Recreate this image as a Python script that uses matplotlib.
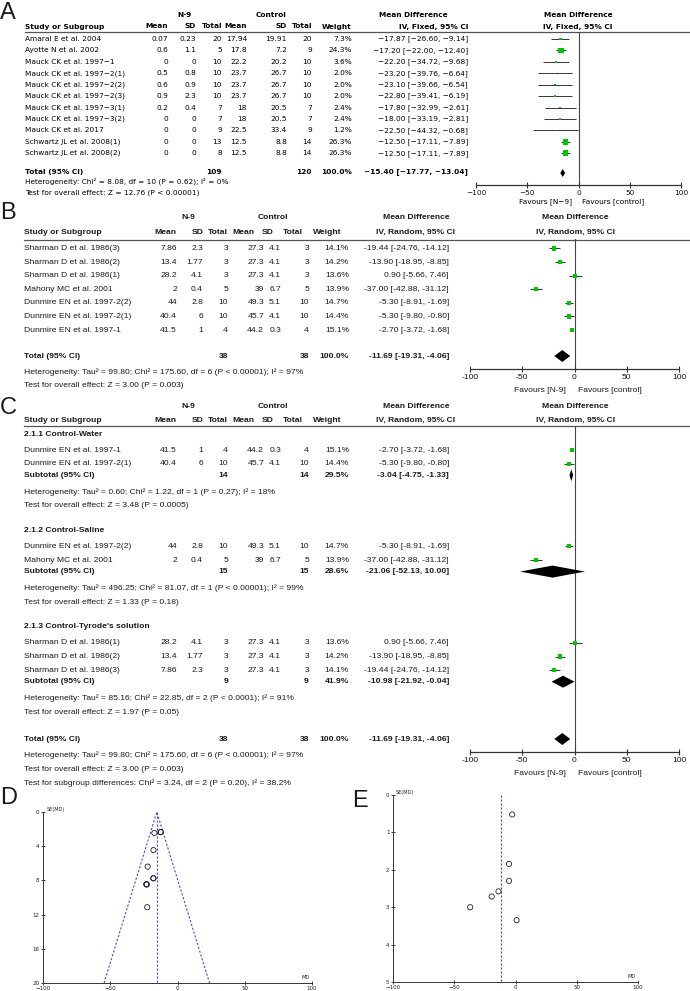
import matplotlib
matplotlib.use("Agg")
import matplotlib.pyplot as plt
import numpy as np

# ---------------- DATA ----------------
# Panel A (IV, Fixed)
a_studies = ["Amaral E et al. 2004", "Ayotte N et al. 2002", "Mauck CK et al. 1997\u22121",
             "Mauck CK et al. 1997\u22122(1)", "Mauck CK et al. 1997\u22122(2)", "Mauck CK et al. 1997\u22122(3)",
             "Mauck CK et al. 1997\u22123(1)", "Mauck CK et al. 1997\u22123(2)", "Mauck CK et al. 2017",
             "Schwartz JL et al. 2008(1)", "Schwartz JL et al. 2008(2)"]
a_n9_mean = [0.07, 0.6, 0, 0.5, 0.6, 0.9, 0.2, 0, 0, 0, 0]
a_n9_sd = [0.23, 1.1, 0, 0.8, 0.9, 2.3, 0.4, 0, 0, 0, 0]
a_n9_total = [20, 5, 10, 10, 10, 10, 7, 7, 9, 13, 8]
a_ctrl_mean = [17.94, 17.8, 22.2, 23.7, 23.7, 23.7, 18, 18, 22.5, 12.5, 12.5]
a_ctrl_sd = [19.91, 7.2, 20.2, 26.7, 26.7, 26.7, 20.5, 20.5, 33.4, 8.8, 8.8]
a_ctrl_total = [20, 9, 10, 10, 10, 10, 7, 7, 9, 14, 14]
a_weight = [7.3, 24.3, 3.6, 2.0, 2.0, 2.0, 2.4, 2.4, 1.2, 26.3, 26.3]
a_md = [-17.87, -17.20, -22.20, -23.20, -23.10, -22.80, -17.80, -18.00, -22.50, -12.50, -12.50]
a_lo = [-26.60, -22.00, -34.72, -39.76, -39.66, -39.41, -32.99, -33.19, -44.32, -17.11, -17.11]
a_hi = [-9.14, -12.40, -9.68, -6.64, -6.54, -6.19, -2.61, -2.81, -0.68, -7.89, -7.89]
a_tot_n9, a_tot_ctrl, a_tot_w = 109, 120, 100.0
a_tot_md, a_tot_lo, a_tot_hi = -15.40, -17.77, -13.04
a_het = "Heterogeneity: Chi\u00b2 = 8.08, df = 10 (P = 0.62); I\u00b2 = 0%"
a_test = "Test for overall effect: Z = 12.76 (P < 0.00001)"

# Panel B (IV, Random)
b_studies = ["Sharman D et al. 1986(3)", "Sharman D et al. 1986(2)", "Sharman D et al. 1986(1)",
             "Mahony MC et al. 2001", "Dunmire EN et al. 1997-2(2)", "Dunmire EN et al. 1997-2(1)",
             "Dunmire EN et al. 1997-1"]
b_n9_mean = [7.86, 13.4, 28.2, 2, 44, 40.4, 41.5]
b_n9_sd = [2.3, 1.77, 4.1, 0.4, 2.8, 6, 1]
b_n9_total = [3, 3, 3, 5, 10, 10, 4]
b_ctrl_mean = [27.3, 27.3, 27.3, 39, 49.3, 45.7, 44.2]
b_ctrl_sd = [4.1, 4.1, 4.1, 6.7, 5.1, 4.1, 0.3]
b_ctrl_total = [3, 3, 3, 5, 10, 10, 4]
b_weight = [14.1, 14.2, 13.6, 13.9, 14.7, 14.4, 15.1]
b_md = [-19.44, -13.90, 0.90, -37.00, -5.30, -5.30, -2.70]
b_lo = [-24.76, -18.95, -5.66, -42.88, -8.91, -9.80, -3.72]
b_hi = [-14.12, -8.85, 7.46, -31.12, -1.69, -0.80, -1.68]
b_tot_n9, b_tot_ctrl, b_tot_w = 38, 38, 100.0
b_tot_md, b_tot_lo, b_tot_hi = -11.69, -19.31, -4.06
b_het = "Heterogeneity: Tau\u00b2 = 99.80; Chi\u00b2 = 175.60, df = 6 (P < 0.00001); I\u00b2 = 97%"
b_test = "Test for overall effect: Z = 3.00 (P = 0.003)"

# Panel C (subgroups of the panel B studies)
c_groups = ["2.1.1 Control-Water", "2.1.2 Control-Saline", "2.1.3 Control-Tyrode's solution"]
c_members = [[6, 5], [4, 3], [2, 1, 0]]
c_sub_n9 = [14, 15, 9]
c_sub_ctrl = [14, 15, 9]
c_sub_w = [29.5, 28.6, 41.9]
c_sub_md = [-3.04, -21.06, -10.98]
c_sub_lo = [-4.75, -52.13, -21.92]
c_sub_hi = [-1.33, 10.00, -0.04]
c_sub_het = ["Heterogeneity: Tau\u00b2 = 0.60; Chi\u00b2 = 1.22, df = 1 (P = 0.27); I\u00b2 = 18%",
             "Heterogeneity: Tau\u00b2 = 496.25; Chi\u00b2 = 81.07, df = 1 (P < 0.00001); I\u00b2 = 99%",
             "Heterogeneity: Tau\u00b2 = 85.16; Chi\u00b2 = 22.85, df = 2 (P < 0.0001); I\u00b2 = 91%"]
c_sub_test = ["Test for overall effect: Z = 3.48 (P = 0.0005)",
              "Test for overall effect: Z = 1.33 (P = 0.18)",
              "Test for overall effect: Z = 1.97 (P = 0.05)"]
c_subgroup_test = "Test for subgroup differences: Chi\u00b2 = 3.24, df = 2 (P = 0.20), I\u00b2 = 38.2%"

axis_ticks = [-100, -50, 0, 50, 100]
d_yticks = [0, 4, 8, 12, 16, 20]
e_yticks = [0, 1, 2, 3, 4, 5]

# ---------------- LAYOUT ----------------
W, H = 690, 991
fig = plt.figure(figsize=(W / 100, H / 100), dpi=100)
T = fig.add_axes([0, 0, 1, 1])
T.set_xlim(0, W)
T.set_ylim(H, 0)
T.axis("off")

FA, SA = "DejaVu Sans", 5.3
FB, SB = "Liberation Sans", 6.1
GREEN = "#00c800"


def txt(x, y, s, ha="left", font=FB, size=SB, bold=False, color="#1a1a1a"):
    T.text(x, y, s, ha=ha, va="center", fontfamily=font, fontsize=size,
           fontweight="bold" if bold else "normal", color=color)


def fmt(v):
    return f"{v:g}"


def fmt_ci(md, lo, hi, minus=False):
    s = f"{md:.2f} [{lo:.2f}, {hi:.2f}]"
    return s.replace("-", "\u2212") if minus else s


def forest(x0, x1, ytop, yaxis, font, size, minus, pad):
    ax = fig.add_axes([x0 / W, 1 - yaxis / H, (x1 - x0) / W, (yaxis - ytop) / H])
    ax.set_xlim(-100, 100)
    ax.set_ylim(yaxis, ytop)
    ax.patch.set_visible(False)
    for s in ("top", "right", "left"):
        ax.spines[s].set_visible(False)
    ax.spines["bottom"].set_linewidth(0.9)
    ax.spines["bottom"].set_color("#333333")
    ax.set_yticks([])
    ax.set_xticks(axis_ticks)
    labs = [str(t) for t in axis_ticks]
    if minus:
        labs = [l.replace("-", "\u2212") for l in labs]
    ax.set_xticklabels(labs, fontfamily=font, fontsize=size, color="#111111")
    ax.tick_params(axis="x", direction="inout", length=4.5, width=0.8, color="#333333", pad=pad)
    ax.axvline(0, color="#444444", lw=0.8, zorder=1)
    return ax


def study_marks(ax, ys, md, lo, hi, w):
    ax.hlines(ys, lo, hi, colors="#333333", lw=0.7, zorder=2)
    side_pt = 1.07 * np.sqrt(np.asarray(w)) * 0.72
    ax.scatter(md, ys, marker="s", s=side_pt ** 2, c=GREEN, linewidths=0, zorder=3)


def diamond(ax, y, md, lo, hi, hh):
    ax.fill([lo, md, hi, md], [y, y - hh, y, y + hh], color="black", lw=0, zorder=3)


# ======== Panel A ========
txt(0, 13, "A", size=17)
ya_h1, ya_h2, ya_line = 15, 26.5, 31.5
a_cols = [168, 196, 222, 247, 287, 312, 352]
a_ci_x = 468
txt(185, ya_h1, "N-9", ha="center", font=FA, size=SA, bold=True, color="k")
txt(271, ya_h1, "Control", ha="center", font=FA, size=SA, bold=True, color="k")
txt(413, ya_h1, "Mean Difference", ha="center", font=FA, size=SA, bold=True, color="k")
txt(25, ya_h2, "Study or Subgroup", font=FA, size=SA, bold=True, color="k")
for x, h in zip(a_cols, ["Mean", "SD", "Total", "Mean", "SD", "Total", "Weight"]):
    txt(x, ya_h2, h, ha="right", font=FA, size=SA, bold=True, color="k")
txt(a_ci_x, ya_h2, "IV, Fixed, 95% CI", ha="right", font=FA, size=SA, bold=True, color="k")
txt(578, ya_h1, "Mean Difference", ha="center", font=FA, size=SA, bold=True, color="k")
txt(578, ya_h2, "IV, Fixed, 95% CI", ha="center", font=FA, size=SA, bold=True, color="k")
T.plot([25, 690], [ya_line, ya_line], color="#555555", lw=0.9)

a_rows_y = 39 + 11.42 * np.arange(len(a_studies))
for i, y in enumerate(a_rows_y):
    txt(25, y, a_studies[i], font=FA, size=SA, color="k")
    vals = [fmt(a_n9_mean[i]), fmt(a_n9_sd[i]), str(a_n9_total[i]), fmt(a_ctrl_mean[i]),
            fmt(a_ctrl_sd[i]), str(a_ctrl_total[i]), f"{a_weight[i]:.1f}%"]
    for x, v in zip(a_cols, vals):
        txt(x, y, v, ha="right", font=FA, size=SA, color="k")
    txt(a_ci_x, y, fmt_ci(a_md[i], a_lo[i], a_hi[i], True), ha="right", font=FA, size=SA, color="k")

ya_tot = 172
txt(25, ya_tot, "Total (95% CI)", font=FA, size=SA, bold=True, color="k")
txt(a_cols[2], ya_tot, str(a_tot_n9), ha="right", font=FA, size=SA, bold=True, color="k")
txt(a_cols[5], ya_tot, str(a_tot_ctrl), ha="right", font=FA, size=SA, bold=True, color="k")
txt(a_cols[6], ya_tot, f"{a_tot_w:.1f}%", ha="right", font=FA, size=SA, bold=True, color="k")
txt(a_ci_x, ya_tot, fmt_ci(a_tot_md, a_tot_lo, a_tot_hi, True), ha="right", font=FA, size=SA, bold=True, color="k")
txt(25, 181.5, a_het, font=FA, size=SA, color="k")
txt(25, 192.5, a_test, font=FA, size=SA, color="k")

axA = forest(476, 681, ya_line, 185, FA, SA, True, 1.0)
study_marks(axA, a_rows_y, a_md, a_lo, a_hi, a_weight)
diamond(axA, ya_tot + 1, a_tot_md, a_tot_lo, a_tot_hi, 4)
txt(572, 202, "Favours [N\u22129]", ha="right", font=FA, size=SA, color="k")
txt(582, 202, "Favours [control]", ha="left", font=FA, size=SA, color="k")

# ======== Panel B / C common columns ========
bc_hdr_cols = [176, 204, 228, 254, 274, 303, 341]
bc_val_cols = [177, 203, 228, 264, 281, 309, 349]
bc_ci_x = 449


def bc_header(y1, y2, yline, rand_x=575):
    txt(188, y1, "N-9", ha="center", bold=True)
    txt(273, y1, "Control", ha="center", bold=True)
    txt(416, y1, "Mean Difference", ha="center", bold=True)
    txt(24, y2, "Study or Subgroup", bold=True)
    for x, h in zip(bc_hdr_cols, ["Mean", "SD", "Total", "Mean", "SD", "Total", "Weight"]):
        txt(x, y2, h, ha="right", bold=True)
    txt(416, y2, "IV, Random, 95% CI", ha="center", bold=True)
    txt(rand_x, y1, "Mean Difference", ha="center", bold=True)
    txt(rand_x, y2, "IV, Random, 95% CI", ha="center", bold=True)
    T.plot([24, 690], [yline, yline], color="#555555", lw=0.9)


def bc_row(i, y):
    txt(24, y, b_studies[i])
    vals = [fmt(b_n9_mean[i]), fmt(b_n9_sd[i]), str(b_n9_total[i]), fmt(b_ctrl_mean[i]),
            fmt(b_ctrl_sd[i]), str(b_ctrl_total[i]), f"{b_weight[i]:.1f}%"]
    for x, v in zip(bc_val_cols, vals):
        txt(x, y, v, ha="right")
    txt(bc_ci_x, y, fmt_ci(b_md[i], b_lo[i], b_hi[i]), ha="right")


def bc_total(y, label, n1, n2, w, md, lo, hi):
    txt(24, y, label, bold=True)
    txt(bc_val_cols[2], y, str(n1), ha="right", bold=True)
    txt(bc_val_cols[5], y, str(n2), ha="right", bold=True)
    txt(bc_val_cols[6], y, f"{w:.1f}%", ha="right", bold=True)
    txt(bc_ci_x, y, fmt_ci(md, lo, hi), ha="right", bold=True)


# ======== Panel B ========
txt(0, 213, "B", size=17)
yb_line = 239.5
bc_header(217.5, 232, yb_line)
b_rows_y = 248.5 + 13.6 * np.arange(len(b_studies))
for i, y in enumerate(b_rows_y):
    bc_row(i, y)
yb_tot = 356
bc_total(yb_tot, "Total (95% CI)", b_tot_n9, b_tot_ctrl, b_tot_w, b_tot_md, b_tot_lo, b_tot_hi)
txt(24, 372, b_het)
txt(24, 385.5, b_test)
axB = forest(470, 679, yb_line, 369, FB, SB, False, 1.5)
study_marks(axB, b_rows_y, b_md, b_lo, b_hi, b_weight)
diamond(axB, yb_tot, b_tot_md, b_tot_lo, b_tot_hi, 6)
txt(566, 390, "Favours [N-9]", ha="right")
txt(578, 390, "Favours [control]", ha="left")

# ======== Panel C ========
txt(0, 408, "C", size=17)
yc_line = 426
bc_header(407, 420, yc_line)
c_md_rows, c_lo_rows, c_hi_rows, c_w_rows, c_y_rows = [], [], [], [], []
c_sub_y = []
y = 434
for g, members in enumerate(c_members):
    txt(24, y, c_groups[g], bold=True)
    y += 16
    for k, i in enumerate(members):
        if k > 0:
            y += 13.7
        bc_row(i, y)
        c_y_rows.append(y)
        c_md_rows.append(b_md[i]); c_lo_rows.append(b_lo[i])
        c_hi_rows.append(b_hi[i]); c_w_rows.append(b_weight[i])
    y += 11.5
    bc_total(y, "Subtotal (95% CI)", c_sub_n9[g], c_sub_ctrl[g], c_sub_w[g],
             c_sub_md[g], c_sub_lo[g], c_sub_hi[g])
    c_sub_y.append(y)
    y += 16.5
    txt(24, y, c_sub_het[g])
    y += 14.2
    txt(24, y, c_sub_test[g])
    if g < len(c_members) - 1:
        y += 24.5
yc_tot = y + 26.6
bc_total(yc_tot, "Total (95% CI)", b_tot_n9, b_tot_ctrl, b_tot_w, b_tot_md, b_tot_lo, b_tot_hi)
txt(24, yc_tot + 16, b_het)
txt(24, yc_tot + 30, b_test)
txt(24, yc_tot + 44, c_subgroup_test)
axC = forest(470, 679, yc_line, yc_tot + 13, FB, SB, False, 1.5)
study_marks(axC, c_y_rows, c_md_rows, c_lo_rows, c_hi_rows, c_w_rows)
for g in range(len(c_members)):
    diamond(axC, c_sub_y[g], c_sub_md[g], c_sub_lo[g], c_sub_hi[g], 6)
diamond(axC, yc_tot, b_tot_md, b_tot_lo, b_tot_hi, 6)
txt(566, yc_tot + 34, "Favours [N-9]", ha="right")
txt(578, yc_tot + 34, "Favours [control]", ha="left")


# ======== Funnel plots ========
def funnel(x0, x1, ytop, ybot, md, se, pooled, semax, yticks, cone):
    ax = fig.add_axes([x0 / W, 1 - ybot / H, (x1 - x0) / W, (ybot - ytop) / H])
    ax.set_xlim(-100, 100)
    ax.set_ylim(semax, 0)
    ax.patch.set_visible(False)
    for s in ("top", "right"):
        ax.spines[s].set_visible(False)
    for s in ("left", "bottom"):
        ax.spines[s].set_linewidth(0.7)
        ax.spines[s].set_color("#333333")
    ax.set_xticks(axis_ticks)
    ax.set_yticks(yticks)
    ax.tick_params(direction="inout", length=3, width=0.6, labelsize=4, pad=1, colors="#222222")
    for lab in ax.get_xticklabels() + ax.get_yticklabels():
        lab.set_fontfamily("DejaVu Sans")
    ax.plot([pooled, pooled], [0, semax], ls=(0, (2, 1.6)), color="#4a4ae0", lw=0.8)
    if cone:
        ax.plot([pooled - 1.96 * semax, pooled, pooled + 1.96 * semax], [semax, 0, semax],
                ls=(0, (2, 1.6)), color="#4a4ae0", lw=0.8, clip_on=False)
    ax.scatter(md, se, s=14, facecolors="none", edgecolors="#222222", linewidths=0.6, zorder=3)
    ax.text(0.012, 1.0, "SE(MD)", transform=ax.transAxes, fontsize=3.6, va="bottom", ha="left",
            fontfamily="DejaVu Sans", color="#222222")
    ax.text(0.99, 0.015, "MD", transform=ax.transAxes, fontsize=3.6, va="bottom", ha="right",
            fontfamily="DejaVu Sans", color="#222222")
    return ax


a_se = (np.array(a_hi) - np.array(a_lo)) / (2 * 1.96)
b_se = (np.array(b_hi) - np.array(b_lo)) / (2 * 1.96)

txt(0, 798, "D", size=17)
funnel(43, 312, 812, 983, a_md, a_se, a_tot_md, 20, d_yticks, True)

txt(352, 801, "E", size=17)
funnel(393, 638, 795, 982, b_md, b_se, b_tot_md, 5, e_yticks, False)

fig.savefig("out.png", dpi=100)
